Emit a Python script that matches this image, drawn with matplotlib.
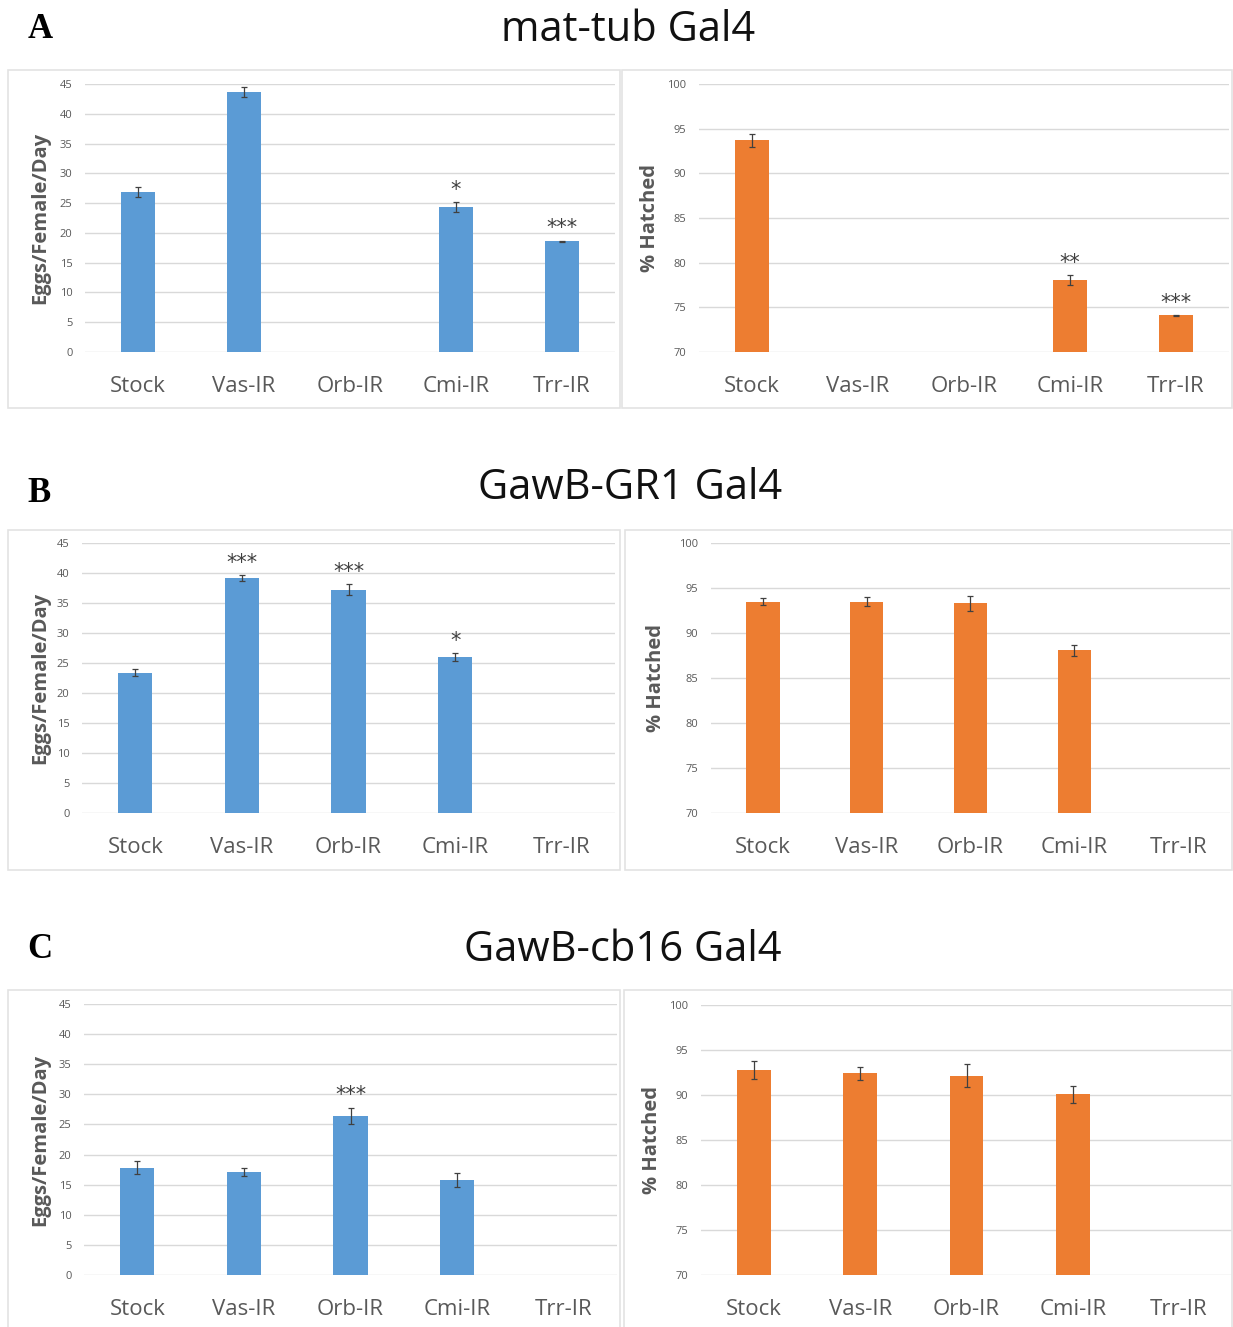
import matplotlib.pyplot as plt
from matplotlib.patches import Rectangle
import numpy as np

# ---------- data ----------
categories = ["Stock", "Vas-IR", "Orb-IR", "Cmi-IR", "Trr-IR"]
nan = np.nan

# panel A : mat-tub Gal4
eggs_A = [26.9, 43.7, nan, 24.3, 18.6]
eggs_A_err = [0.85, 0.85, nan, 0.85, 0.1]
eggs_A_stars = ["", "", "", "*", "***"]
hatch_A = [93.7, nan, nan, 78.1, 74.1]
hatch_A_err = [0.75, nan, nan, 0.55, 0.05]
hatch_A_stars = ["", "", "", "**", "***"]

# panel B : GawB-GR1 Gal4
eggs_B = [23.4, 39.1, 37.2, 26.0, nan]
eggs_B_err = [0.55, 0.5, 0.9, 0.6, nan]
eggs_B_stars = ["", "***", "***", "*", ""]
hatch_B = [93.5, 93.5, 93.3, 88.1, nan]
hatch_B_err = [0.4, 0.55, 0.8, 0.6, nan]
hatch_B_stars = ["", "", "", "", ""]

# panel C : GawB-cb16 Gal4
eggs_C = [17.8, 17.1, 26.4, 15.8, nan]
eggs_C_err = [1.1, 0.7, 1.4, 1.2, nan]
eggs_C_stars = ["", "", "***", "", ""]
hatch_C = [92.8, 92.4, 92.15, 90.1, nan]
hatch_C_err = [1.0, 0.7, 1.3, 0.95, nan]
hatch_C_stars = ["", "", "", "", ""]

panel_titles = ["mat-tub Gal4", "GawB-GR1 Gal4", "GawB-cb16 Gal4"]
panel_letters = ["A", "B", "C"]

# ---------- styling ----------
W, H = 1233, 1327
BLUE = "#5B9BD5"
ORANGE = "#ED7D31"
GRID = "#d9d9d9"
TXT = "#595959"
FONT = "Open Sans"

fig = plt.figure(figsize=(W / 100, H / 100), dpi=100)


def px_axes(x0, x1, ytop, ybot):
    # pixel box -> figure fraction
    return fig.add_axes([x0 / W, 1 - ybot / H, (x1 - x0) / W, (ybot - ytop) / H])


def draw_box(x0, y0, x1, y1):
    fig.patches.append(Rectangle((x0 / W, 1 - y1 / H), (x1 - x0) / W, (y1 - y0) / H,
                                 transform=fig.transFigure, fill=False,
                                 edgecolor="#e3e3e3", lw=1.2, zorder=0))


def bar_chart(ax, vals, errs, stars, color, ylim, ticks, ylabel, label_x_px, x0_px):
    x = np.arange(len(categories))
    ax.bar(x, vals, width=0.32, color=color, zorder=2)
    ax.errorbar(x, vals, yerr=errs, fmt="none", ecolor="#404040",
                elinewidth=0.9, capsize=2.5, capthick=0.9, zorder=3)
    ax.set_xlim(-0.5, len(categories) - 0.5)
    ax.set_ylim(*ylim)
    ax.set_yticks(ticks)
    ax.set_xticks(x)
    ax.set_xticklabels(categories, fontsize=16, color=TXT, family=FONT)
    for lbl in ax.get_yticklabels():
        lbl.set_fontsize(8)
        lbl.set_color(TXT)
        lbl.set_family(FONT)
    ax.tick_params(axis="x", length=0, pad=17)
    ax.tick_params(axis="y", length=0, pad=9)
    ax.grid(axis="y", color=GRID, lw=1, zorder=0)
    for s in ax.spines.values():
        s.set_visible(False)
    ax.set_ylabel(ylabel, fontsize=14.5, fontweight="bold", color=TXT, family=FONT)
    width_px = ax.get_position().width * W
    ax.yaxis.set_label_coords((label_x_px - x0_px) / width_px, 0.5)
    span = ylim[1] - ylim[0]
    for xi, v, e, s in zip(x, vals, errs, stars):
        if s:
            ax.text(xi, v + e + span * 0.008, s, ha="center", va="bottom",
                    fontsize=15, color="#404040", family="DejaVu Sans")


# pixel layouts: (x0, x1, ytop, ybot, ylabel right edge x)
layout = [
    [(85, 615, 84, 352, 50), (699, 1229, 84, 352, 660)],
    [(82, 615, 543, 813, 50), (711, 1230, 543, 813, 666)],
    [(84, 617, 1004, 1275, 50), (701, 1232, 1005, 1275, 662)],
]
boxes = [
    [(8, 70, 620, 408), (622, 70, 1232, 408)],
    [(8, 530, 620, 870), (625, 530, 1232, 870)],
    [(8, 990, 620, 1340), (624, 990, 1232, 1340)],
]
title_pos = [(628, 30), (630, 488), (623, 950)]
letter_pos = [(40, 30), (39, 493), (40, 950)]

eggs = [(eggs_A, eggs_A_err, eggs_A_stars), (eggs_B, eggs_B_err, eggs_B_stars),
        (eggs_C, eggs_C_err, eggs_C_stars)]
hatch = [(hatch_A, hatch_A_err, hatch_A_stars), (hatch_B, hatch_B_err, hatch_B_stars),
         (hatch_C, hatch_C_err, hatch_C_stars)]

for i in range(3):
    for b in boxes[i]:
        draw_box(*b)
    (lx0, lx1, lt, lb, lyl), (rx0, rx1, rt, rb, ryl) = layout[i]
    axl = px_axes(lx0, lx1, lt, lb)
    bar_chart(axl, *eggs[i], BLUE, (0, 45), range(0, 50, 5),
              "Eggs/Female/Day", lyl, lx0)
    axr = px_axes(rx0, rx1, rt, rb)
    bar_chart(axr, *hatch[i], ORANGE, (70, 100), range(70, 105, 5),
              "% Hatched", ryl, rx0)
    tx, ty = title_pos[i]
    fig.text(tx / W, 1 - ty / H, panel_titles[i], ha="center", va="center",
             fontsize=30, family=FONT, color="#111111")
    lx, ly = letter_pos[i]
    fig.text(lx / W, 1 - ly / H, panel_letters[i], ha="center", va="center",
             fontsize=25, fontweight="bold", family="Liberation Serif", color="black")

fig.savefig("out.png", dpi=100)
